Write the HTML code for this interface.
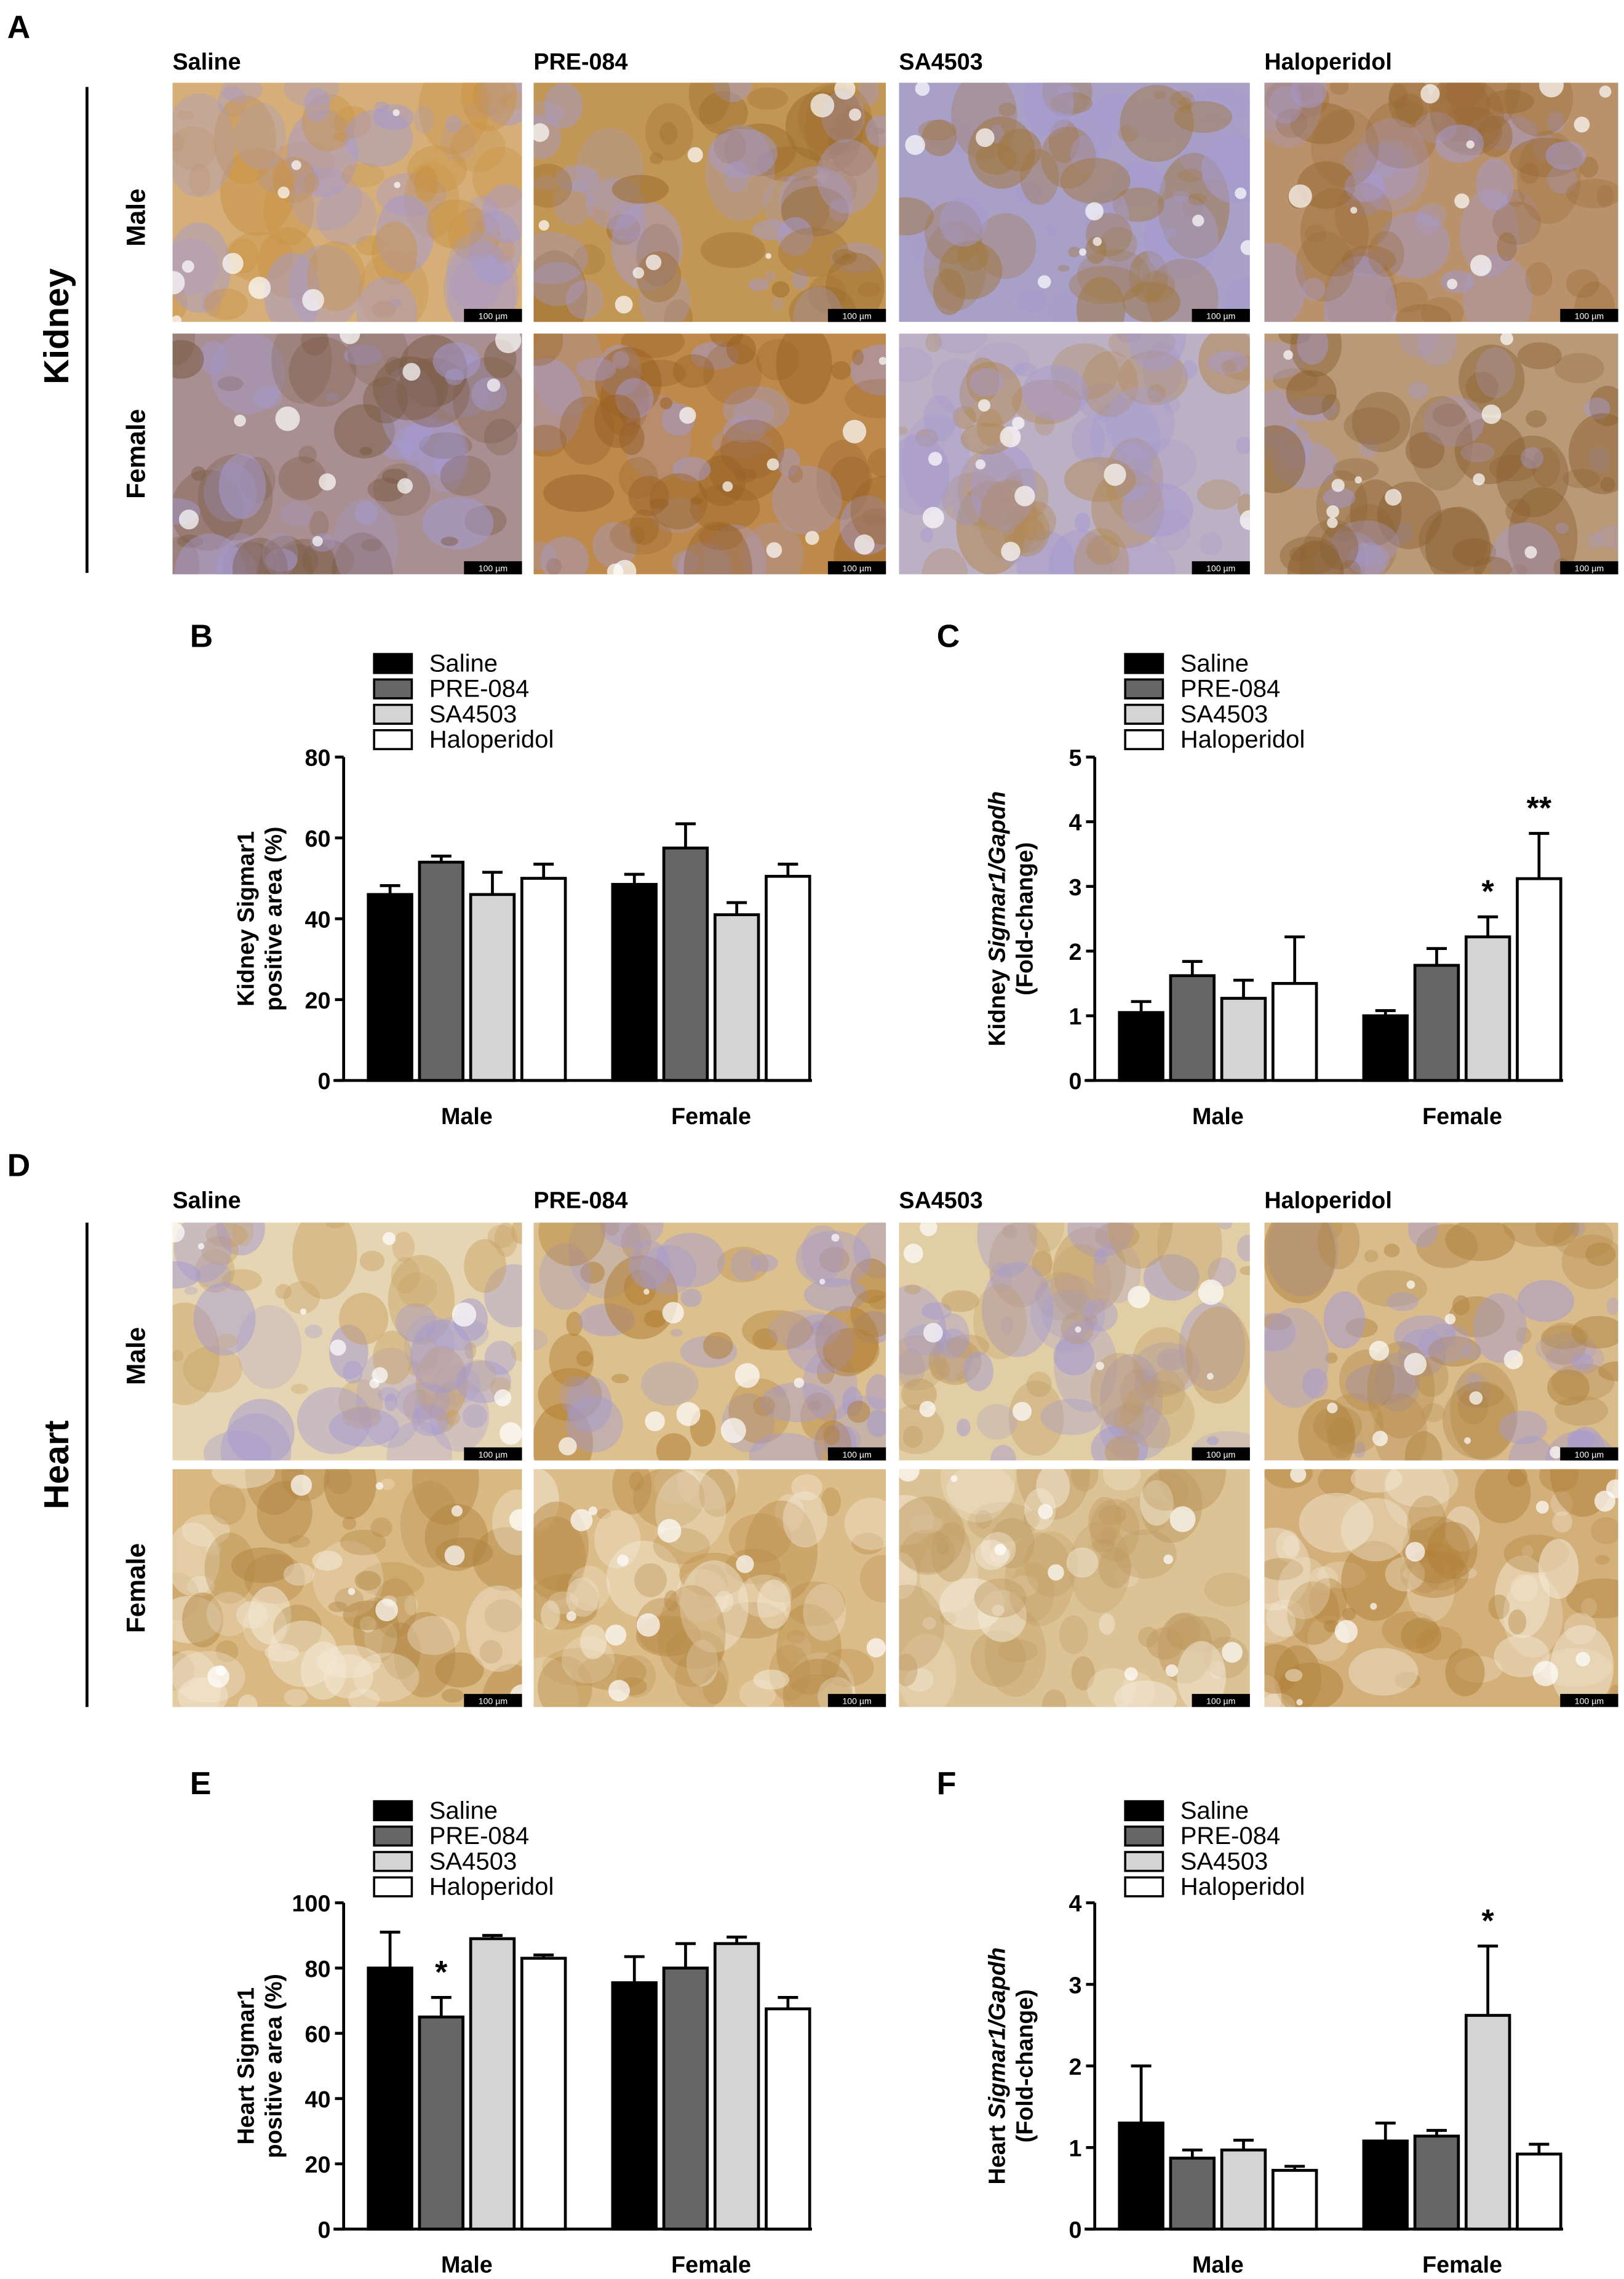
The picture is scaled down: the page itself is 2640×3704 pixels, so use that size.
<!DOCTYPE html>
<html><head><meta charset="utf-8"><style>
html,body{margin:0;padding:0;background:#fff}
svg{display:block}
text{font-family:"Liberation Sans",Arial,sans-serif}
</style></head><body>
<svg id="fig" width="2640" height="3704" viewBox="0 0 1120 1571.4" xmlns="http://www.w3.org/2000/svg">
<g id="photos"></g>
<g id="charts"></g>
</svg>
<script>
// ---------- chart data ----------
const groups = ["Saline","PRE-084","SA4503","Haloperidol"];
const sexes = ["Male","Female"];
const bMean = [[46,54,46,50],[48.5,57.5,41,50.5]];
const bErr  = [[2.2,1.5,5.5,3.5],[2.5,6,3,3]];
const bTicks = [0,20,40,60,80];
const cMean = [[1.05,1.62,1.27,1.5],[1.0,1.78,2.22,3.12]];
const cErr  = [[0.17,0.22,0.28,0.72],[0.08,0.26,0.31,0.7]];
const cTicks = [0,1,2,3,4,5];
const cStars = [["","","",""],["","","*","**"]];
const eMean = [[80,65,89,83],[75.5,80,87.5,67.5]];
const eErr  = [[11,6,1,1],[8,7.5,2,3.5]];
const eTicks = [0,20,40,60,80,100];
const eStars = [["","*","",""],["","","",""]];
const fMean = [[1.3,0.87,0.97,0.72],[1.08,1.14,2.62,0.92]];
const fErr  = [[0.7,0.1,0.12,0.05],[0.22,0.07,0.85,0.12]];
const fTicks = [0,1,2,3,4];
const fStars = [["","","",""],["","","*",""]];
const fills = ["#000","#666","#d4d4d4","#fff"];

const NS="http://www.w3.org/2000/svg";
function el(tag,attrs,parent,txt){const e=document.createElementNS(NS,tag);for(const k in attrs)e.setAttribute(k,attrs[k]);if(txt!==undefined)e.textContent=txt;parent.appendChild(e);return e;}

// ---------- photos ----------
const photos=document.getElementById('photos');
const colX=[[119,360],[368,611],[620,862],[872,1116]];
const cols=["Saline","PRE-084","SA4503","Haloperidol"];
const kidneyBase=[["#d5ae78","#c29654","#a9a0c8","#b9926c"],["#a98f92","#bd8a4c","#bcb0c4","#b99978"]];
const kidneyDark=[["#c99240","#9c6c2c","#a07840","#9a6a34"],["#7a5a40","#986024","#b08850","#8a6030"]];
const heartBase=[["#e6d5b2","#dcc08e","#e2cea4","#d9bb8c"],["#d9b882","#dcbd8a","#dcc396","#d3af7a"]];
const heartDark=[["#c8a060","#b07c30","#c09a60","#b08440"],["#b08440","#b88c48","#bf9a60","#b08038"]];
let seed=7;function rnd(){seed=(seed*16807)%2147483647;return seed/2147483647;}
function photo(x0,x1,y0,y1,base,dark,name,lav){
  const g=el('g',{},photos);
  
  
  const cid='c'+Math.round(x0)+'_'+Math.round(y0);
  const cp=el('clipPath',{id:cid},g);el('rect',{x:x0,y:y0,width:x1-x0,height:y1-y0},cp);
  const inner=el('g',{'clip-path':'url(#'+cid+')'},g);
  el('rect',{x:x0,y:y0,width:x1-x0,height:y1-y0,fill:base},inner);
  for(let i=0;i<70;i++){
    const cx=x0+rnd()*(x1-x0),cy=y0+rnd()*(y1-y0),r=4+rnd()*22;
    const c=rnd()<0.55?dark:(lav?"#a59ad0":"#f4ead8");
    el('ellipse',{cx:cx,cy:cy,rx:r,ry:r*(0.5+rnd()),fill:c,opacity:0.25+rnd()*0.3},inner);
  }
  for(let i=0;i<10;i++){
    const cx=x0+rnd()*(x1-x0),cy=y0+rnd()*(y1-y0),r=2+rnd()*7;
    el('ellipse',{cx:cx,cy:cy,rx:r,ry:r,fill:"#fff",opacity:0.7},inner);
  }
  const sb=el('rect',{x:x1-40,y:y1-9,width:40,height:9,fill:"#000"},g);
  
  
  el('text',{x:x1-20,y:y1-2,'font-size':6,fill:"#fff",'text-anchor':'middle'},g,"100 µm");
}
const kRows=[[57,222],[230,396]],hRows=[[843,1007],[1013,1177]];
for(let r=0;r<2;r++)for(let c=0;c<4;c++){
  photo(colX[c][0],colX[c][1],kRows[r][0],kRows[r][1],kidneyBase[r][c],kidneyDark[r][c],'kidney-'+sexes[r].toLowerCase()+'-'+c,true);
  photo(colX[c][0],colX[c][1],hRows[r][0],hRows[r][1],heartBase[r][c],heartDark[r][c],'heart-'+sexes[r].toLowerCase()+'-'+c,r==0);
}
function lbl(x,y,t,size,name,rot,anchor){
  const e=el('text',{x:x,y:y,'font-size':size,'font-weight':'bold','text-anchor':anchor||'start'},photos,t);
  if(rot)e.setAttribute('transform','rotate(-90 '+x+' '+y+')');
  
  
}
lbl(5,26,"A",22,"panel-label-a");lbl(5,811,"D",22,"panel-label-d");
for(let c=0;c<4;c++){lbl(colX[c][0],48,cols[c],16,'column-label');lbl(colX[c][0],833,cols[c],16,'column-label');}
lbl(47,225,"Kidney",24,"kidney-label",true,'middle');
lbl(47,1010,"Heart",24,"heart-label",true,'middle');
lbl(100,150,"Male",18,"row-label-male",true,'middle');lbl(100,313,"Female",18,"row-label-female",true,'middle');
lbl(100,935,"Male",18,"row-label-male",true,'middle');lbl(100,1095,"Female",18,"row-label-female",true,'middle');
el('line',{x1:60,y1:60,x2:60,y2:395,stroke:"#000",'stroke-width':2},photos);
el('line',{x1:60,y1:843,x2:60,y2:1177,stroke:"#000",'stroke-width':2},photos);

// ---------- charts ----------
const charts=document.getElementById('charts');
function chart(o){
  const g=el('g',{},charts);
  
  
  const ymax=o.ticks[o.ticks.length-1];
  const y=v=>o.y0-(v/ymax)*(o.y0-o.yTop);
  const L=el('text',{x:o.letterX,y:o.letterY,'font-size':22,'font-weight':'bold'},g,o.letter);
  
  
  // legend
  for(let i=0;i<4;i++){
    const ly=o.legY+i*17.5;
    const r=el('rect',{x:o.ax+21,y:ly-6,width:26,height:13,fill:fills[i],stroke:"#000",'stroke-width':1.5},g);
    
    
    const t=el('text',{x:o.ax+59,y:ly+6,'font-size':17},g,groups[i]);
    
    
  }
  // bars
  for(let s=0;s<2;s++)for(let i=0;i<4;i++){
    const bx=o.ax+o.first+s*o.gShift+i*o.step;
    const v=o.mean[s][i],e=o.err[s][i];
    const eb=el('path',{d:`M${bx+o.bw/2},${y(v)}V${y(v+e)}M${bx+o.bw/2-7},${y(v+e)}H${bx+o.bw/2+7}`,stroke:"#000",'stroke-width':2,fill:"none"},g);
    
    
    const b=el('rect',{x:bx,y:y(v),width:o.bw,height:o.y0-y(v),fill:fills[i],stroke:"#000",'stroke-width':2},g);
    
    
    if(o.stars&&o.stars[s][i]){
      const st=el('text',{x:bx+o.bw/2,y:y(v+e)-10,'font-size':22,'font-weight':'bold','text-anchor':'middle'},g,o.stars[s][i]);
      
      
    }
  }
  // axes
  el('line',{x1:o.ax,y1:o.yTop,x2:o.ax,y2:o.y0,stroke:"#000",'stroke-width':2},g);
  const xa=el('line',{x1:o.ax-7,y1:o.y0,x2:o.ax+o.len,y2:o.y0,stroke:"#000",'stroke-width':2},g);
  
  
  o.ticks.forEach(t=>{
    el('line',{x1:o.ax-6,y1:y(t),x2:o.ax,y2:y(t),stroke:"#000",'stroke-width':2},g);
    const tl=el('text',{x:o.ax-9,y:y(t)+6,'font-size':16,'font-weight':'bold','text-anchor':'end'},g,String(t));
    
    
  });
  for(let s=0;s<2;s++){
    const cx=o.ax+o.first+s*o.gShift+(3*o.step+o.bw)/2;
    const xl=el('text',{x:cx,y:o.y0+30,'font-size':16,'font-weight':'bold','text-anchor':'middle'},g,sexes[s]);
    
    
  }
  const my=(o.y0+o.yTop)/2;
  const t1=el('text',{x:o.ax-62,y:my,'font-size':16,'font-weight':'bold','text-anchor':'middle',transform:`rotate(-90 ${o.ax-62} ${my})`},g);
  
  
  if(o.italic){
    el('tspan',{},t1,o.title1[0]);el('tspan',{'font-style':'italic'},t1,o.title1[1]);
  } else t1.textContent=o.title1;
  const t2=el('text',{x:o.ax-43,y:my,'font-size':16,'font-weight':'bold','text-anchor':'middle',transform:`rotate(-90 ${o.ax-43} ${my})`},g,o.title2);
  
  
}
const common={first:17,bw:30,step:35.3,gShift:168.5,len:323};
chart(Object.assign({},common,{name:'chart-b',letter:'B',letterX:131,letterY:446,ax:237,y0:745,yTop:522,legY:457,ticks:bTicks,mean:bMean,err:bErr,title1:'Kidney Sigmar1',title2:'positive area (%)'}));
chart(Object.assign({},common,{name:'chart-c',letter:'C',letterX:646,letterY:446,ax:755,y0:745,yTop:522,legY:457,ticks:cTicks,mean:cMean,err:cErr,stars:cStars,italic:true,title1:['Kidney ','Sigmar1/Gapdh'],title2:'(Fold-change)'}));
chart(Object.assign({},common,{name:'chart-e',letter:'E',letterX:131,letterY:1237,ax:237,y0:1537,yTop:1312,legY:1248,ticks:eTicks,mean:eMean,err:eErr,stars:eStars,title1:'Heart Sigmar1',title2:'positive area (%)'}));
chart(Object.assign({},common,{name:'chart-f',letter:'F',letterX:646,letterY:1237,ax:755,y0:1537,yTop:1312,legY:1248,ticks:fTicks,mean:fMean,err:fErr,stars:fStars,italic:true,title1:['Heart ','Sigmar1/Gapdh'],title2:'(Fold-change)'}));
</script>
</body></html>
